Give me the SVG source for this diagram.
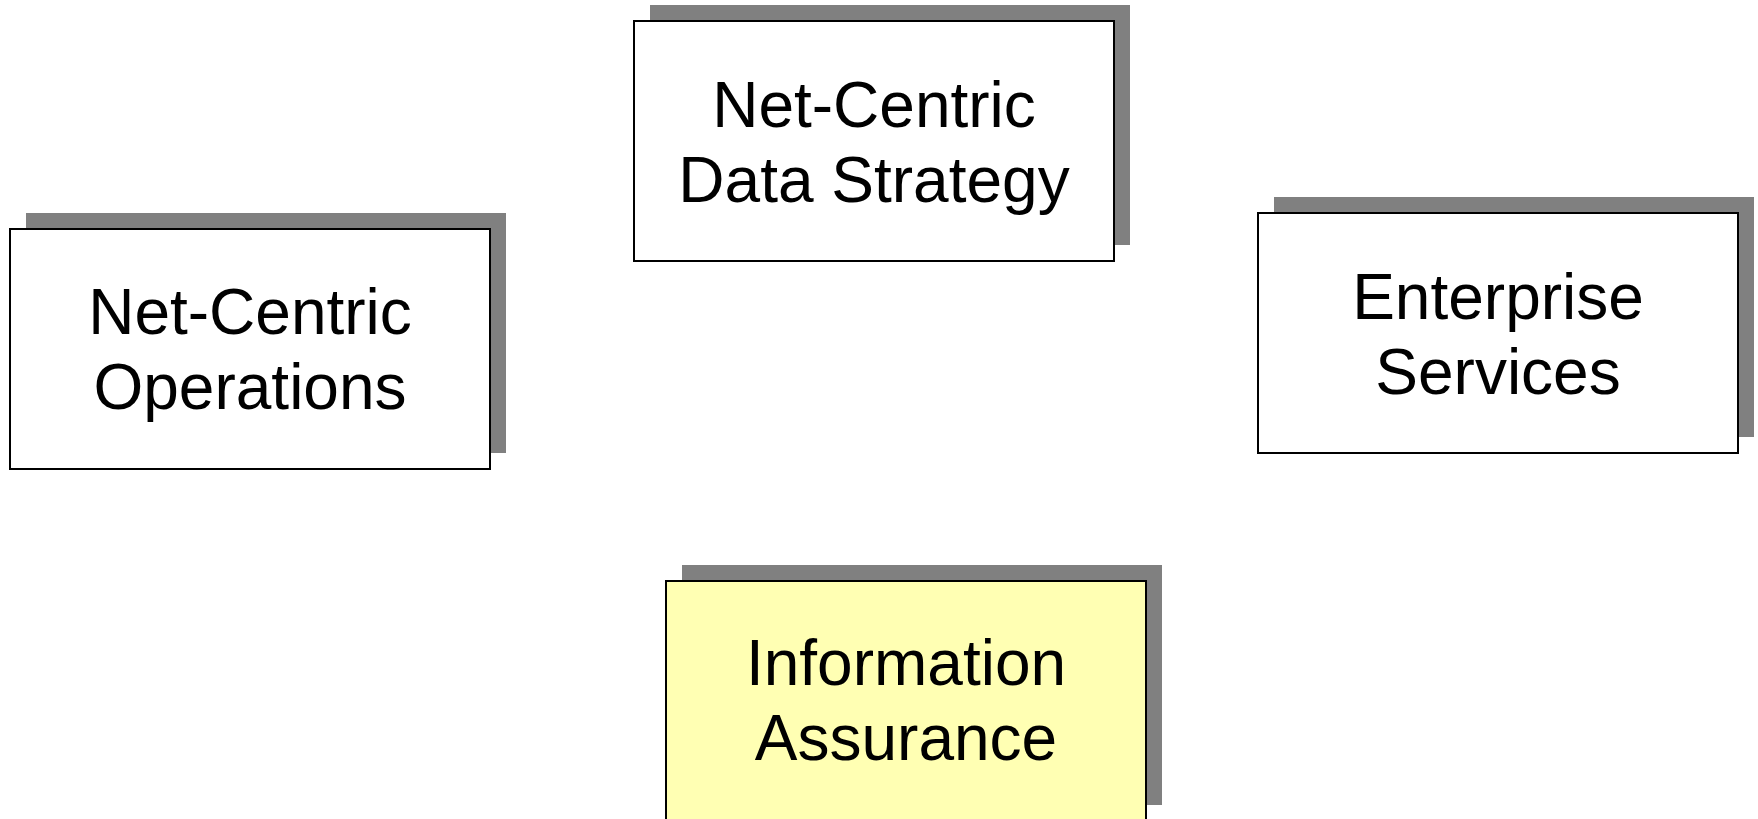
<svg xmlns="http://www.w3.org/2000/svg" width="1758" height="819" viewBox="0 0 1758 819">
<style>
.sh{fill:#808080;}
.bx{fill:#ffffff;stroke:#000000;stroke-width:2;}
.y{fill:#ffffb3;}
.t{font-family:"Liberation Sans",Arial,sans-serif;font-size:64px;fill:#000000;text-anchor:middle;}
</style>
<rect width="1758" height="819" fill="#ffffff"/>
<g id="connectors"></g>
<g id="node-data-strategy">
<rect class="sh" x="650" y="5" width="480" height="240"/>
<rect class="bx" x="634" y="21" width="480" height="240"/>
<text class="t" x="874" y="127">Net-Centric</text>
<text class="t" x="874" y="202">Data Strategy</text>
</g>
<g id="node-operations">
<rect class="sh" x="26" y="213" width="480" height="240"/>
<rect class="bx" x="10" y="229" width="480" height="240"/>
<text class="t" x="250" y="334">Net-Centric</text>
<text class="t" x="250" y="409">Operations</text>
</g>
<g id="node-enterprise-services">
<rect class="sh" x="1274" y="197" width="480" height="240"/>
<rect class="bx" x="1258" y="213" width="480" height="240"/>
<text class="t" x="1498" y="319">Enterprise</text>
<text class="t" x="1498" y="394">Services</text>
</g>
<g id="node-information-assurance">
<rect class="sh" x="682" y="565" width="480" height="240"/>
<rect class="bx y" x="666" y="581" width="480" height="240"/>
<text class="t" x="906" y="685">Information</text>
<text class="t" x="906" y="760">Assurance</text>
</g>
</svg>
